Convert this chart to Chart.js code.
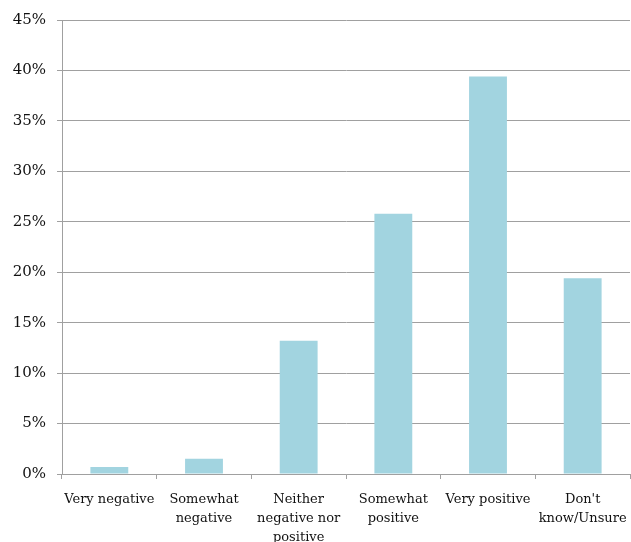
<!DOCTYPE html>
<html>
<head>
<meta charset="utf-8">
<script src="https://cdn.jsdelivr.net/npm/chart.js@4"></script>
<style>
  html, body { margin: 0; padding: 0; background: #fff; }
  #wrap { width: 631px; height: 542px; }
</style>
</head>
<body>
<div id="wrap"><canvas id="c" width="631" height="542"></canvas></div>
<script>
// Attitude categories (multi-line labels as drawn under the axis)
const categories = [
  ["Very negative"],
  ["Somewhat", "negative"],
  ["Neither", "negative nor", "positive"],
  ["Somewhat", "positive"],
  ["Very positive"],
  ["Don't", "know/Unsure"]
];
// Share of respondents, percent
const shares = [0.7, 1.5, 13.2, 25.8, 39.4, 19.4];
const yMax = 45;
const yStep = 5;

const fontFamily = "'DejaVu Serif', 'Liberation Serif', serif";
const gridGray = '#a0a0a0';

new Chart(document.getElementById('c'), {
  type: 'bar',
  data: {
    labels: categories,
    datasets: [{
      data: shares,
      backgroundColor: '#a2d4e0',
      borderWidth: 0,
      categoryPercentage: 1.0,
      barPercentage: 0.4
    }]
  },
  options: {
    responsive: false,
    animation: false,
    devicePixelRatio: 1,
    layout: { padding: { top: 10, right: 1, left: 0, bottom: 0 } },
    plugins: { legend: { display: false }, tooltip: { enabled: false } },
    scales: {
      x: {
        afterFit: scale => {
          scale.height = 68;
          scale.paddingLeft = 0;
          scale.paddingRight = 0;
        },
        grid: {
          drawOnChartArea: false,
          drawTicks: true,
          tickLength: 5,
          color: gridGray,
          offset: true
        },
        border: { color: gridGray, width: 1 },
        ticks: {
          color: '#111',
          font: { family: fontFamily, size: 13, lineHeight: 1.45 },
          maxRotation: 0,
          autoSkip: false,
          padding: 11
        }
      },
      y: {
        min: 0,
        max: yMax,
        afterFit: scale => { scale.width = 62; },
        grid: {
          color: gridGray,
          lineWidth: 1,
          drawTicks: true,
          tickLength: 5
        },
        border: { color: gridGray, width: 1 },
        ticks: {
          stepSize: yStep,
          color: '#111',
          font: { family: fontFamily, size: 15 },
          padding: 11,
          callback: v => v + '%'
        }
      }
    }
  }
});
</script>
</body>
</html>
